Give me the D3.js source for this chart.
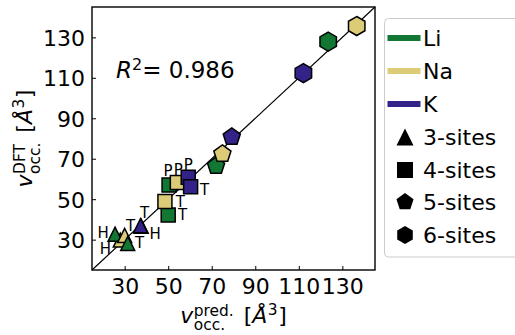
<!DOCTYPE html>
<html><head><meta charset="utf-8">
<script src="https://cdn.jsdelivr.net/npm/d3@7"></script>
<style>body{margin:0;background:#fff} svg{display:block} text{font-family:"DejaVu Sans",sans-serif;fill:#000}</style>
</head><body><svg id="c" width="515" height="335"></svg>
<script>
// ---- data ----
const elements = ["Li", "Na", "K"];
const siteCounts = [3, 4, 5, 6];
const siteNames = ["3-sites", "4-sites", "5-sites", "6-sites"];
const tickValues = [30, 50, 70, 90, 110, 130];
const axisDomain = [15, 145];
const r2Value = "0.986";

const pointElement = ["Na","Li","Na","Li","K","K","Li","Na","Li","Na","K","K","Li","Na","K","K","Li","Na"];
const pointSites   = [3,3,3,3,3,3,4,4,4,4,4,4,5,5,5,6,6,6];
const pointLabel   = ["H","H","T","T","H","T","T","T","P","P","P","T","","","","","",""];
const predicted    = [28.0,25.6,30.0,31.4,37.6,37.3,50.0,48.5,50.4,54.2,59.2,60.3,72.0,74.9,79.2,112.1,123.5,136.6];
const dft          = [29.8,32.7,32.1,28.1,36.6,36.9,42.2,48.8,57.0,58.2,60.9,56.2,66.4,72.4,80.8,112.3,127.9,135.6];

// ---- styles ----
const colors = {Li: "#117733", Na: "#DDCC77", K: "#332288"};
const markerR = {3: 7, 4: 7, 5: 9, 6: 9.5};
const legendR = {3: 8.5, 4: 8, 5: 9, 6: 9};
// label offsets (px) keyed by element-sites-label
const labelOffset = {
  "Na-3-H": [-15, 9], "Li-3-H": [-12, -2], "Na-3-T": [6, -10], "Li-3-T": [12, -1],
  "K-3-T": [4, -13], "K-3-H": [14, 7],
  "Li-4-T": [14.5, 0], "Na-4-T": [15.5, 0], "K-4-T": [14, 3],
  "Li-4-P": [-1, -14], "Na-4-P": [1, -13], "K-4-P": [0, -13]
};

const svg = d3.select("#c");
svg.append("rect").attr("width", 515).attr("height", 335).attr("fill", "#fff");

const L = 92, R = 375, T = 7, B = 270;
const x = d3.scaleLinear().domain(axisDomain).range([L, R]);
const y = d3.scaleLinear().domain(axisDomain).range([B, T]);

function shapePath(sites, r) {
  let pts;
  if (sites === 3) pts = [[0, -r], [-r, r], [r, r]];
  else if (sites === 4) pts = [[-r, -r], [r, -r], [r, r], [-r, r]];
  else {
    pts = d3.range(sites).map(k => {
      const a = -Math.PI / 2 + k * 2 * Math.PI / sites;
      return [r * Math.cos(a), r * Math.sin(a)];
    });
  }
  return "M" + pts.map(p => p.join(",")).join("L") + "Z";
}

// diagonal
svg.append("line")
  .attr("x1", x(axisDomain[0])).attr("y1", y(axisDomain[0]))
  .attr("x2", x(axisDomain[1])).attr("y2", y(axisDomain[1]))
  .attr("stroke", "#000").attr("stroke-width", 1.2);

// axes
const xAxis = d3.axisBottom(x).tickValues(tickValues).tickSizeInner(-4).tickSizeOuter(0).tickPadding(8);
const yAxis = d3.axisLeft(y).tickValues(tickValues).tickSizeInner(-4).tickSizeOuter(0).tickPadding(7);
const gx = svg.append("g").attr("transform", `translate(0,${B})`).call(xAxis);
const gy = svg.append("g").attr("transform", `translate(${L},0)`).call(yAxis);
[gx, gy].forEach(g => {
  g.select(".domain").remove();
  g.selectAll(".tick line").attr("stroke", "#000").attr("stroke-width", 1);
  g.selectAll(".tick text").style("font-family", "DejaVu Sans").style("font-size", "22px").attr("fill", "#000");
});
gx.selectAll(".tick text").attr("dy", null).attr("y", 24);
gy.selectAll(".tick text").attr("dy", "0.36em").attr("x", -7);

// points
const pts = d3.range(predicted.length).map(i => ({
  el: pointElement[i], s: pointSites[i], lab: pointLabel[i], px: predicted[i], py: dft[i]
}));
svg.append("g").selectAll("path").data(pts).join("path")
  .attr("d", d => shapePath(d.s, markerR[d.s]))
  .attr("transform", d => `translate(${x(d.px)},${y(d.py)})`)
  .attr("fill", d => colors[d.el]).attr("stroke", "#000").attr("stroke-width", 1.5)
  .attr("stroke-linejoin", "miter");

svg.append("g").selectAll("text").data(pts.filter(d => d.lab)).join("text")
  .attr("x", d => x(d.px) + labelOffset[`${d.el}-${d.s}-${d.lab}`][0])
  .attr("y", d => y(d.py) + labelOffset[`${d.el}-${d.s}-${d.lab}`][1])
  .attr("text-anchor", "middle").attr("dy", "0.36em")
  .style("font-size", "15px").text(d => d.lab);

// frame
svg.append("rect").attr("x", L).attr("y", T).attr("width", R - L).attr("height", B - T)
  .attr("fill", "none").attr("stroke", "#000").attr("stroke-width", 1.4);

// R^2 text
const rt = svg.append("text").attr("x", 116).attr("y", 78).style("font-size", "23px");
rt.append("tspan").style("font-style", "italic").text("R");
rt.append("tspan").attr("dy", -8.5).style("font-size", "16px").text("2");
rt.append("tspan").attr("dy", 8.5).text("= " + r2Value);

// math axis labels
function mathLabel(g, supText, subText) {
  const big = 22, small = 15.4;
  let cx = 0;
  const add = (t, xx, yy, size, italic) => {
    const n = g.append("text").attr("x", xx).attr("y", yy).style("font-size", size + "px")
      .style("font-style", italic ? "italic" : "normal").text(t);
    return n.node().getComputedTextLength();
  };
  cx += add("v", cx, 0, big, true) + 0.5;
  const w1 = add(supText, cx, -7, small, false);
  const w2 = add(subText, cx, 7.3, small, false);
  cx += Math.max(w1, w2) + 10;
  cx += add("[", cx, 0, big, false);
  cx += add("Å", cx, 0, big, true) + 0.5;
  cx += add("3", cx, -8, small, false) + 0.5;
  cx += add("]", cx, 0, big, false);
  return cx;
}
const xl = svg.append("g");
const xw = mathLabel(xl, "pred.", "occ.");
xl.attr("transform", `translate(${(L + R) / 2 - xw / 2},322.7)`);
const yl = svg.append("g");
const yw = mathLabel(yl, "DFT", "occ.");
yl.attr("transform", `translate(32.3,${(T + B) / 2 + yw / 2}) rotate(-90)`);

// legend
const lg = svg.append("g");
lg.append("rect").attr("x", 384.5).attr("y", 18.5).attr("width", 140).attr("height", 238.5)
  .attr("rx", 4).attr("fill", "#fff").attr("stroke", "#cccccc").attr("stroke-width", 1);
const rowY = [38, 71, 104, 137, 170, 202, 235];
elements.forEach((e, i) => {
  lg.append("rect").attr("x", 387.5).attr("y", rowY[i] - 3).attr("width", 33).attr("height", 6)
    .attr("fill", colors[e]);
  lg.append("text").attr("x", 423).attr("y", rowY[i] + 8).style("font-size", "22px").text(e);
});
siteCounts.forEach((s, j) => {
  const ry = rowY[3 + j];
  lg.append("path").attr("d", shapePath(s, legendR[s])).attr("transform", `translate(405,${ry})`)
    .attr("fill", "#000");
  lg.append("text").attr("x", 423).attr("y", ry + 8).style("font-size", "22px").text(siteNames[j]);
});
</script></body></html>
